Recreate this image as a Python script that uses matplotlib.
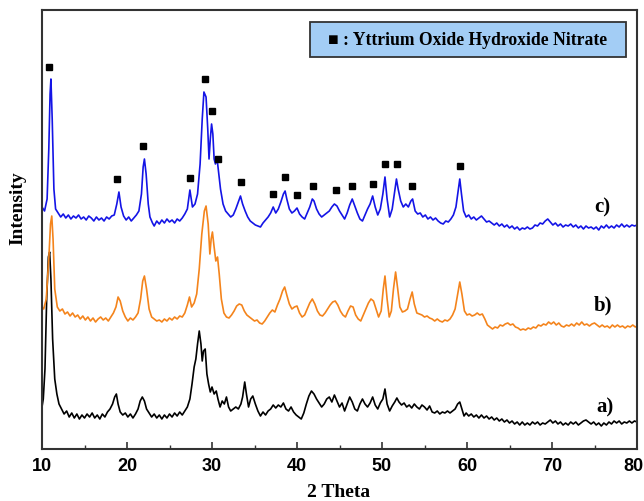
import matplotlib
matplotlib.use("Agg")
import matplotlib.pyplot as plt
import matplotlib.transforms as mtransforms
from matplotlib.patches import Rectangle
from matplotlib.ticker import MultipleLocator

# ---------------- data (2 theta in degrees, intensity in arbitrary units) ----------------
c_theta = [10.0, 10.3, 10.6, 10.8, 10.95, 11.05, 11.2, 11.4, 11.6, 11.9, 12.2, 12.5, 12.8, 13.1, 13.4, 13.7,
           14.0, 14.3, 14.6, 14.9, 15.2, 15.5, 15.8, 16.1, 16.4, 16.7, 17.0, 17.3, 17.6, 17.9, 18.2, 18.5,
           18.8, 19.05, 19.3, 19.6, 19.9, 20.2, 20.5, 20.8, 21.1, 21.4, 21.7, 21.9, 22.05, 22.25, 22.5, 22.7,
           23.0, 23.2, 23.5, 23.8, 24.1, 24.4, 24.7, 25.0, 25.3, 25.6, 25.9, 26.2, 26.5, 26.8, 27.1, 27.4,
           27.7, 28.0, 28.3, 28.6, 28.85, 29.05, 29.3, 29.5, 29.65, 29.8, 29.95, 30.1, 30.25, 30.4, 30.6, 30.8,
           31.0, 31.3, 31.6, 31.9, 32.2, 32.5, 32.8, 33.1, 33.35, 33.6, 33.9, 34.2, 34.5, 34.8, 35.1, 35.4,
           35.7, 36.0, 36.3, 36.6, 36.9, 37.2, 37.5, 37.8, 38.1, 38.4, 38.6, 38.8, 39.1, 39.4, 39.7, 40.0,
           40.3, 40.6, 40.9, 41.2, 41.5, 41.8, 42.0, 42.3, 42.6, 42.9, 43.2, 43.5, 43.8, 44.1, 44.4, 44.7,
           45.0, 45.3, 45.6, 45.9, 46.2, 46.5, 46.8, 47.1, 47.4, 47.7, 48.0, 48.3, 48.6, 48.9, 49.2, 49.5,
           49.8, 50.1, 50.35, 50.6, 50.9, 51.2, 51.5, 51.7, 51.9, 52.2, 52.5, 52.8, 53.1, 53.4, 53.6, 53.9,
           54.2, 54.5, 54.8, 55.1, 55.4, 55.7, 56.0, 56.3, 56.6, 56.9, 57.2, 57.5, 57.8, 58.1, 58.4, 58.7,
           58.95, 59.15, 59.35, 59.6, 59.9, 60.2, 60.5, 60.8, 61.1, 61.4, 61.7, 62.0, 62.3, 62.6, 62.9, 63.2,
           63.5, 63.8, 64.1, 64.4, 64.7, 65.0, 65.3, 65.6, 65.9, 66.2, 66.5, 66.8, 67.1, 67.4, 67.7, 68.0,
           68.3, 68.6, 68.9, 69.2, 69.5, 69.8, 70.1, 70.4, 70.7, 71.0, 71.3, 71.6, 71.9, 72.2, 72.5, 72.8,
           73.1, 73.4, 73.7, 74.0, 74.3, 74.6, 74.9, 75.2, 75.5, 75.8, 76.1, 76.4, 76.7, 77.0, 77.3, 77.6,
           77.9, 78.2, 78.5, 78.8, 79.1, 79.4, 79.7, 80.0]
c_intensity = [242, 238, 250, 300, 355, 370, 330, 260, 240, 236, 232, 235, 231, 234, 230, 233,
               231, 234, 230, 232, 229, 233, 231, 228, 232, 229, 231, 228, 232, 230, 233, 234,
               245, 257, 242, 233, 229, 232, 228, 231, 234, 238, 255, 282, 290, 275, 245, 232,
               226, 223, 228, 225, 229, 226, 230, 227, 229, 226, 230, 228, 231, 235, 240, 259,
               242, 245, 255, 285, 330, 357, 352, 320, 290, 310, 325, 315, 290, 285, 290, 275,
               260, 245, 238, 235, 232, 234, 240, 247, 253, 245, 238, 232, 228, 226, 224, 223,
               222, 226, 229, 232, 236, 242, 236, 240, 247, 255, 258, 250, 240, 236, 238, 241,
               235, 232, 230, 236, 242, 250, 248, 240, 235, 232, 234, 236, 238, 242, 245, 243,
               238, 234, 230, 236, 244, 250, 243, 236, 230, 228, 234, 240, 245, 253, 242, 234,
               240, 255, 272, 250, 232, 240, 258, 270, 260, 248, 242, 245, 242, 248, 250, 238,
               235, 236, 232, 234, 230, 232, 229, 231, 228, 226, 225, 228, 227, 230, 234, 242,
               258, 270, 255, 238, 232, 234, 230, 232, 229, 231, 233, 230, 227, 228, 226, 224,
               226, 223, 225, 222, 224, 221, 223, 220, 222, 219, 221, 220, 222, 220, 221, 224,
               223, 226, 225, 228, 230, 227, 224, 226, 223, 225, 222, 224, 223, 225, 222, 224,
               221, 223, 220, 223, 221, 222, 220, 222, 219, 223, 221, 224, 221, 223, 221, 224,
               222, 225, 222, 224, 222, 224, 223, 224]

b_theta = [10.0, 10.2, 10.5, 10.8, 11.0, 11.15, 11.3, 11.5, 11.8, 12.1, 12.4, 12.7, 13.0, 13.3, 13.6, 13.9,
           14.2, 14.5, 14.8, 15.1, 15.4, 15.7, 16.0, 16.3, 16.6, 16.9, 17.2, 17.5, 17.8, 18.1, 18.4, 18.7,
           18.95, 19.2, 19.5, 19.8, 20.1, 20.4, 20.7, 21.0, 21.3, 21.6, 21.85, 22.05, 22.3, 22.6, 22.9, 23.2,
           23.5, 23.8, 24.1, 24.4, 24.7, 25.0, 25.3, 25.6, 25.9, 26.2, 26.5, 26.8, 27.1, 27.35, 27.6, 27.9,
           28.2, 28.5, 28.8, 29.1, 29.3, 29.55, 29.75, 29.9, 30.05, 30.25, 30.45, 30.65, 30.85, 31.1, 31.4, 31.7,
           32.0, 32.3, 32.6, 32.9, 33.2, 33.5, 33.8, 34.1, 34.4, 34.7, 35.0, 35.3, 35.6, 35.9, 36.2, 36.5,
           36.8, 37.1, 37.4, 37.7, 38.0, 38.3, 38.55, 38.8, 39.1, 39.4, 39.7, 40.0, 40.3, 40.6, 40.9, 41.2,
           41.5, 41.8, 42.1, 42.4, 42.7, 43.0, 43.3, 43.6, 43.9, 44.2, 44.5, 44.8, 45.1, 45.4, 45.7, 46.0,
           46.3, 46.6, 46.9, 47.2, 47.5, 47.8, 48.1, 48.4, 48.7, 49.0, 49.3, 49.6, 49.9, 50.15, 50.35, 50.6,
           50.85, 51.1, 51.35, 51.6, 51.85, 52.1, 52.4, 52.7, 53.0, 53.3, 53.55, 53.8, 54.1, 54.4, 54.7, 55.0,
           55.3, 55.6, 55.9, 56.2, 56.5, 56.8, 57.1, 57.4, 57.7, 58.0, 58.3, 58.6, 58.9, 59.15, 59.4, 59.7,
           60.0, 60.3, 60.6, 60.9, 61.2, 61.5, 61.8, 62.1, 62.4, 62.7, 63.0, 63.3, 63.6, 63.9, 64.2, 64.5,
           64.8, 65.1, 65.4, 65.7, 66.0, 66.3, 66.6, 66.9, 67.2, 67.5, 67.8, 68.1, 68.4, 68.7, 69.0, 69.3,
           69.6, 69.9, 70.2, 70.5, 70.8, 71.1, 71.4, 71.7, 72.0, 72.3, 72.6, 72.9, 73.2, 73.5, 73.8, 74.1,
           74.4, 74.7, 75.0, 75.3, 75.6, 75.9, 76.2, 76.5, 76.8, 77.1, 77.4, 77.7, 78.0, 78.3, 78.6, 78.9,
           79.2, 79.5, 79.8, 80.0]
b_intensity = [142, 140, 150, 190, 225, 233, 210, 160, 142, 138, 140, 135, 137, 133, 136, 132,
               134, 130, 133, 129, 132, 128, 131, 127, 130, 132, 129, 131, 128, 132, 136, 142,
               152, 148, 138, 132, 128, 131, 129, 132, 136, 150, 168, 173, 160, 140, 132, 130,
               128, 129, 127, 130, 128, 131, 129, 132, 130, 133, 132, 136, 144, 152, 142, 146,
               155, 180, 215, 238, 243, 225, 195, 210, 217, 202, 188, 192, 175, 150, 136, 132,
               131, 134, 138, 143, 145, 144, 138, 134, 132, 130, 128, 129, 126, 125, 128, 132,
               136, 139, 137, 144, 150, 158, 162, 154, 145, 140, 142, 143, 136, 132, 134, 140,
               146, 150, 145, 138, 134, 133, 136, 140, 144, 147, 148, 144, 138, 134, 132, 138,
               143, 142, 134, 130, 128, 134, 140, 146, 150, 148, 140, 132, 138, 160, 173, 150,
               132, 138, 160, 177, 160, 142, 137, 138, 140, 150, 157, 145, 136, 135, 134, 132,
               133, 131, 130, 128, 130, 128, 127, 129, 128, 130, 134, 140, 155, 167, 155, 138,
               134, 135, 133, 134, 136, 134, 135, 130, 124, 122, 120, 122, 121, 124, 123, 125,
               126, 124, 125, 122, 121, 119, 120, 119, 121, 120, 122, 121, 124, 123, 125, 124,
               127, 125, 127, 124, 126, 123, 122, 124, 123, 125, 123, 126, 124, 127, 124, 125,
               123, 125, 126, 124, 122, 124, 122, 123, 121, 124, 122, 124, 122, 123, 121, 123,
               122, 124, 122, 123]

a_theta = [10.0, 10.15, 10.35, 10.55, 10.75, 10.9, 11.05, 11.25, 11.5, 11.75, 12.0, 12.3, 12.6, 12.9, 13.2, 13.5,
           13.8, 14.1, 14.4, 14.7, 15.0, 15.3, 15.6, 15.9, 16.2, 16.5, 16.8, 17.1, 17.4, 17.7, 18.0, 18.3,
           18.55, 18.75, 18.95, 19.2, 19.5, 19.8, 20.1, 20.4, 20.7, 21.0, 21.3, 21.55, 21.8, 22.05, 22.3, 22.6,
           22.9, 23.2, 23.5, 23.8, 24.1, 24.4, 24.7, 25.0, 25.3, 25.6, 25.9, 26.2, 26.5, 26.8, 27.1, 27.4,
           27.65, 27.9, 28.1, 28.3, 28.5, 28.7, 28.85, 29.0, 29.2, 29.4, 29.6, 29.8, 30.0, 30.25, 30.5, 30.7,
           30.95, 31.2, 31.45, 31.7, 31.95, 32.2, 32.5, 32.8, 33.1, 33.4, 33.6, 33.85, 34.05, 34.3, 34.55, 34.8,
           35.1, 35.4, 35.7, 36.0, 36.3, 36.6, 36.9, 37.2, 37.5, 37.8, 38.1, 38.4, 38.7, 39.0, 39.3, 39.6,
           39.9, 40.2, 40.5, 40.8, 41.1, 41.4, 41.7, 42.0, 42.3, 42.6, 42.9, 43.2, 43.5, 43.8, 44.1, 44.4,
           44.7, 45.0, 45.3, 45.6, 45.9, 46.2, 46.5, 46.8, 47.1, 47.4, 47.7, 48.0, 48.3, 48.6, 48.9, 49.2,
           49.5, 49.8, 50.1, 50.35, 50.6, 50.9, 51.2, 51.5, 51.75, 52.0, 52.3, 52.6, 52.9, 53.2, 53.5, 53.8,
           54.1, 54.4, 54.7, 55.0, 55.3, 55.6, 55.9, 56.2, 56.5, 56.8, 57.1, 57.4, 57.7, 58.0, 58.3, 58.6,
           58.9, 59.15, 59.4, 59.65, 59.9, 60.2, 60.5, 60.8, 61.1, 61.4, 61.7, 62.0, 62.3, 62.6, 62.9, 63.2,
           63.5, 63.8, 64.1, 64.4, 64.7, 65.0, 65.3, 65.6, 65.9, 66.2, 66.5, 66.8, 67.1, 67.4, 67.7, 68.0,
           68.3, 68.6, 68.9, 69.2, 69.5, 69.8, 70.1, 70.4, 70.7, 71.0, 71.3, 71.6, 71.9, 72.2, 72.5, 72.8,
           73.1, 73.4, 73.7, 74.0, 74.3, 74.6, 74.9, 75.2, 75.5, 75.8, 76.1, 76.4, 76.7, 77.0, 77.3, 77.6,
           77.9, 78.2, 78.5, 78.8, 79.1, 79.4, 79.7, 80.0]
a_intensity = [42, 50, 80, 150, 192, 197, 170, 110, 70, 55, 45, 40, 35, 38, 32, 36,
               31, 35, 30, 34, 31, 35, 32, 36, 31, 34, 30, 35, 32, 37, 40, 45,
               52, 55, 45, 37, 34, 36, 32, 35, 31, 35, 40, 48, 52, 48, 40, 36,
               32, 35, 31, 34, 30, 34, 31, 35, 32, 36, 33, 37, 34, 38, 42, 50,
               65, 82, 90, 105, 118, 105, 88, 98, 100, 75, 65, 57, 62, 55, 58, 50,
               42, 48, 45, 52, 42, 38, 40, 42, 40, 45, 52, 67, 55, 42, 50, 53,
               45, 38, 33, 37, 34, 38, 40, 44, 41, 44, 42, 46, 40, 38, 42, 37,
               34, 32, 30, 36, 45, 53, 58, 55, 50, 46, 42, 45, 50, 52, 47, 54,
               48, 42, 46, 38, 45, 52, 47, 40, 38, 45, 50, 45, 42, 46, 52, 44,
               40, 46, 50, 60, 45, 38, 43, 47, 51, 47, 44, 46, 42, 44, 41, 45,
               42, 40, 44, 42, 39, 43, 37, 36, 38, 35, 37, 36, 38, 36, 38, 40,
               45, 47, 40, 33, 36, 33, 35, 32, 34, 31, 34, 31, 33, 30, 32, 29,
               31, 28, 30, 27, 29, 26, 28, 25, 27, 24, 27, 24, 26, 24, 27, 25,
               27, 24, 26, 25, 27, 29, 26, 28, 25, 27, 24, 26, 24, 27, 25, 27,
               24, 26, 28, 29, 27, 25, 27, 24, 26, 23, 26, 24, 27, 25, 28, 26,
               28, 25, 27, 26, 28, 26, 28, 27]

# peaks marked as Yttrium Oxide Hydroxide Nitrate (marker position and height)
marker_theta = [10.82, 18.82, 21.88, 27.41, 29.18, 30.0, 30.7, 33.41, 37.18, 38.59,
                40.0, 41.88, 44.59, 46.47, 48.94, 50.35, 51.76, 53.53, 59.18]
marker_height = [382, 270, 303, 271, 370, 338, 290, 267, 255, 272,
                 254, 263, 259, 263, 265, 285, 285, 263, 283]

series_labels = ["a)", "b)", "c)"]
label_theta = [76.2, 76.0, 75.9]
label_height = [43, 145, 243]
x_ticks = [10, 20, 30, 40, 50, 60, 70, 80]
legend_text = "\u25a0 : Yttrium Oxide Hydroxide Nitrate"

# ---------------- figure ----------------
W, H = 644, 502
fig = plt.figure(figsize=(W / 100, H / 100), dpi=100)
ax = fig.add_axes([42 / W, (H - 450) / H, (637 - 42) / W, (450 - 11) / H])

serif = ["Liberation Serif", "DejaVu Serif"]

ax.plot(a_theta, a_intensity, color="#000000", lw=1.2)
ax.plot(b_theta, b_intensity, color="#f4841c", lw=1.2)
ax.plot(c_theta, c_intensity, color="#1414e6", lw=1.2)
ax.plot(marker_theta, marker_height, ls="none", marker="s", ms=5, color="black")

for lab, xt, yt in zip(series_labels, label_theta, label_height):
    ax.text(xt, yt, lab, family=serif, fontweight="bold", fontsize=15,
            ha="center", va="center")

ax.set_xlim(10, 80)
ax.set_ylim(0, 439)
ax.set_xticks(x_ticks)
ax.xaxis.set_minor_locator(MultipleLocator(5))
ax.set_yticks([])
ax.tick_params(axis="x", which="major", direction="in", length=5, width=1.2,
               colors="#333333", labelcolor="black", pad=6)
ax.tick_params(axis="x", which="minor", direction="in", length=3, width=1.0, colors="#333333")
tick_labels = ax.get_xticklabels()
for lbl in tick_labels:
    lbl.set_fontfamily(["Liberation Sans", "DejaVu Sans"])
    lbl.set_fontweight("bold")
    lbl.set_fontsize(13)
# keep the last label inside the figure edge
tick_labels[-1].set_horizontalalignment("right")
tick_labels[-1].set_transform(tick_labels[-1].get_transform() +
                              mtransforms.ScaledTranslation(7 / 100, 0, fig.dpi_scale_trans))
for s in ax.spines.values():
    s.set_color("#333333")
    s.set_linewidth(1.5)

# legend box
ax.add_patch(Rectangle(((310 - 42) / 595, (450 - 58) / 439), (626 - 310) / 595, (58 - 23) / 439,
                       transform=ax.transAxes, facecolor="#a3cdf5", edgecolor="#333333",
                       lw=1.3, zorder=5))
ax.text((468 - 42) / 595, (450 - 40.5) / 439, legend_text, transform=ax.transAxes,
        family=serif, fontweight="bold", fontsize=12.7, ha="center", va="center", zorder=6)

fig.text(18 / W, 1 - 208 / H, "Intensity", rotation=90, family=serif, fontweight="bold",
         fontsize=14, ha="center", va="center")
fig.text(339 / W, 1 - 493 / H, "2 Theta", family=serif, fontweight="bold",
         fontsize=14, ha="center", va="center")

fig.savefig("out.png", dpi=100)
